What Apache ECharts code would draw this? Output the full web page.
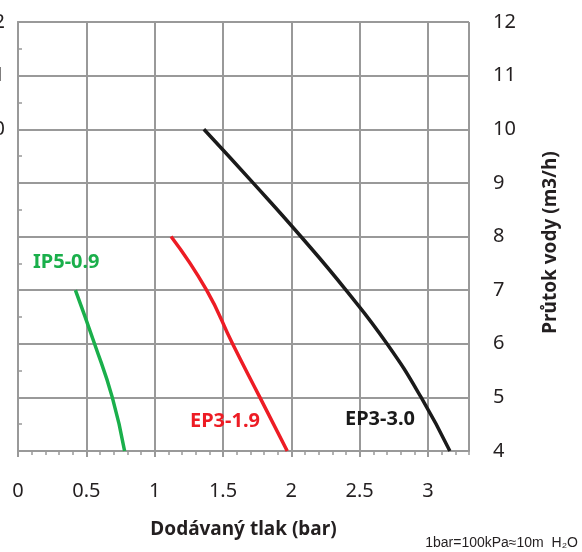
<!DOCTYPE html>
<html>
<head>
<meta charset="utf-8">
<script src="https://cdn.jsdelivr.net/npm/echarts@6/dist/echarts.min.js"></script>
<style>
  html, body { margin: 0; padding: 0; background: #fff; }
  #chart { width: 582px; height: 552px; }
</style>
</head>
<body>
<div id="chart"></div>
<script>
// tlak (bar) vs prutok (m3/h)
const flowIP5 = [7, 6, 5, 4];
const pressIP5 = [0.42, 0.56, 0.69, 0.78];
const flowEP19 = [8, 7, 6, 5, 4];
const pressEP19 = [1.12, 1.38, 1.57, 1.77, 1.97];
const flowEP30 = [10, 9, 8, 7, 6, 5, 4];
const pressEP30 = [1.36, 1.72, 2.07, 2.40, 2.70, 2.95, 3.16];
const seriesNames = ['IP5-0.9', 'EP3-1.9', 'EP3-3.0'];
const seriesColors = ['#1aaf4b', '#ed1c24', '#1a1a1a'];

const pairs = (xs, ys) => xs.map((x, i) => [x, ys[i]]);

const chart = echarts.init(document.getElementById('chart'));
const gridColor = '#999';
const textColor = '#231f20';

const line = (name, data, color) => ({
    name: name,
    type: 'line',
    xAxisIndex: 0,
    yAxisIndex: 1,
    data: data,
    smooth: 0.5,
    showSymbol: false,
    lineStyle: { color: color, width: 3.5 },
    itemStyle: { color: color },
    z: 5
});

const labelText = (text, left, top, color) => ({
    type: 'text',
    left: left,
    top: top,
    style: {
        text: text,
        fill: color,
        font: 'bold 20px "Noto Sans"'
    },
    z: 10
});

let option = {
    backgroundColor: '#fff',
    animation: false,
    grid: { left: 18, right: 113, top: 22, bottom: 101, containLabel: false, outerBoundsMode: 'none' },
    xAxis: [
        {
            type: 'value',
            min: 0,
            max: 3.3,
            interval: 0.5,
            name: 'Dodávaný tlak (bar)',
            nameLocation: 'middle',
            nameGap: 69,
            nameTextStyle: { color: textColor, fontFamily: 'Noto Sans', fontWeight: 'bold', fontSize: 19 },
            axisLine: { show: true, lineStyle: { color: gridColor, width: 2 } },
            axisTick: { show: true, length: 6, lineStyle: { color: gridColor, width: 2 } },
            axisLabel: {
                showMaxLabel: false,
                margin: 30,
                color: textColor,
                fontFamily: 'Noto Sans',
                fontSize: 20
            },
            splitLine: { show: true, lineStyle: { color: gridColor, width: 2 } }
        },
        {
            // jemne dilky po 0.1
            type: 'value',
            min: 0,
            max: 3.3,
            interval: 0.1,
            position: 'bottom',
            axisLine: { show: false },
            axisTick: { show: true, length: 4, lineStyle: { color: gridColor, width: 1.5 } },
            axisLabel: { show: false },
            splitLine: { show: false }
        }
    ],
    yAxis: [
        {
            type: 'value',
            position: 'left',
            min: 4,
            max: 12,
            interval: 1,
            axisLine: { show: true, lineStyle: { color: gridColor, width: 2 } },
            axisTick: { show: false },
            // vlevo je videt jen konec dvoucifernych popisku
            axisLabel: {
                margin: 13,
                color: textColor,
                fontFamily: 'Noto Sans',
                fontSize: 20,
                formatter: v => (v >= 10 ? String(v) : '')
            },
            splitLine: { show: true, lineStyle: { color: gridColor, width: 2 } }
        },
        {
            type: 'value',
            position: 'right',
            min: 4,
            max: 12,
            interval: 1,
            name: 'Průtok vody (m3/h)',
            nameLocation: 'middle',
            nameRotate: 90,
            nameGap: 72,
            nameTextStyle: {
                color: textColor,
                fontFamily: 'Noto Sans',
                fontWeight: 'bold',
                fontSize: 19,
                padding: [0, 12, 0, 0]
            },
            axisLine: { show: true, lineStyle: { color: gridColor, width: 2 } },
            axisTick: { show: true, length: 7, lineStyle: { color: gridColor, width: 2 } },
            minorTick: { show: true, splitNumber: 2, length: 4, lineStyle: { color: gridColor, width: 1.5 } },
            axisLabel: { margin: 24, color: textColor, fontFamily: 'Noto Sans', fontSize: 20 },
            splitLine: { show: false }
        }
    ],
    graphic: [
        labelText(seriesNames[0], 33, 252, seriesColors[0]),
        labelText(seriesNames[1], 190, 411, seriesColors[1]),
        labelText(seriesNames[2], 345, 409, seriesColors[2]),
        {
            type: 'text',
            right: 4,
            top: 536,
            style: {
                text: '1bar=100kPa≈10m  H₂O',
                fill: textColor,
                font: '14px "Liberation Sans"'
            }
        }
    ],
    series: [
        line(seriesNames[0], pairs(pressIP5, flowIP5), seriesColors[0]),
        line(seriesNames[1], pairs(pressEP19, flowEP19), seriesColors[1]),
        line(seriesNames[2], pairs(pressEP30, flowEP30), seriesColors[2])
    ]
};
chart.setOption(option, true);
</script>
</body>
</html>
